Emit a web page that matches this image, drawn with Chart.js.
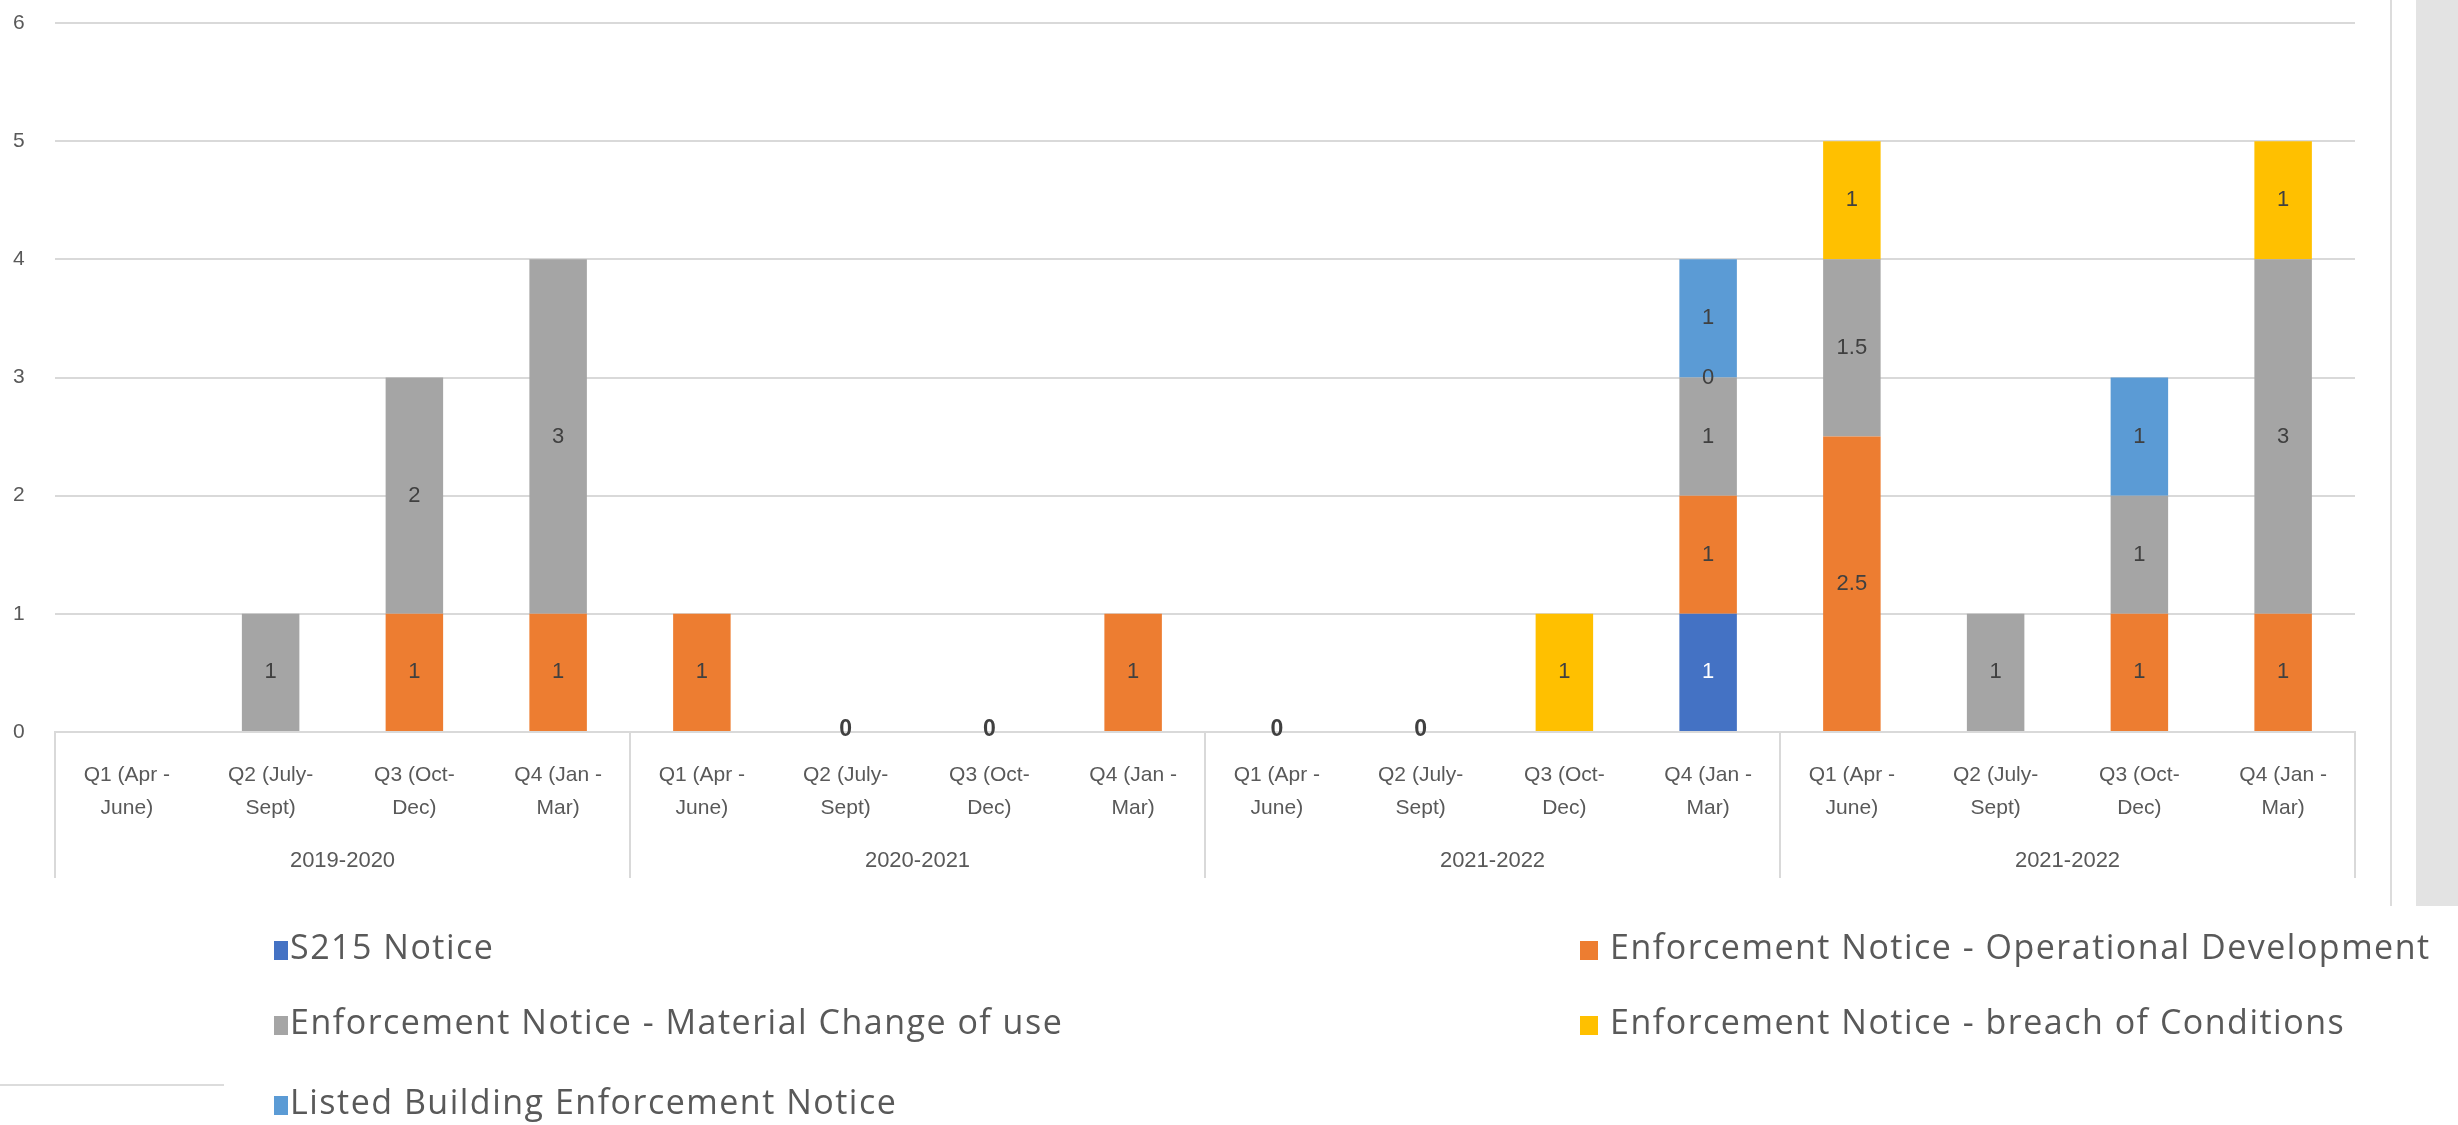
<!DOCTYPE html>
<html>
<head>
<title>Enforcement Notices</title>
<script src="https://cdn.jsdelivr.net/npm/chart.js"></script>
<style>
body { margin: 0; background: #fff; font-family: 'Liberation Sans', Arial, sans-serif; overflow: hidden; }
#wrap { position: absolute; left: 0; top: 0; width: 2458px; height: 1125px; }
.leg { position: absolute; font-family: 'Open Sans', sans-serif; font-size: 34px; letter-spacing: 1.5px; color: #595959; white-space: nowrap; line-height: 38px; }
.leg span { display: inline-block; width: 14px; height: 19px; margin-right: 2px; vertical-align: -1px; }
.leg.r span { width: 18px; margin-right: 12px; }
.vline { position: absolute; left: 2390px; top: 0; width: 2px; height: 906px; background: #dcdcdc; }
.side { position: absolute; left: 2416px; top: 0; width: 42px; height: 906px; background: #e3e3e3; }
.hline { position: absolute; left: 0; top: 1084px; width: 224px; height: 2px; background: #dcdcdc; }
</style>
</head>
<body>
<div id="wrap"><canvas id="c"></canvas></div>
<div class="vline"></div><div class="side"></div><div class="hline"></div>
<div id="legend"></div>
<script>
// quarters repeat for each financial year
const quarters = [['Q1 (Apr -', 'June)'], ['Q2 (July-', 'Sept)'], ['Q3 (Oct-', 'Dec)'], ['Q4 (Jan -', 'Mar)']];
const years = ['2019-2020', '2020-2021', '2021-2022', '2021-2022'];
const labels = years.flatMap(() => quarters);

const s215 =        [null, null, null, null,  null, null, null, null,  null, null, null, 1,     null, null, null, null];
const operational = [null, null, 1,    1,     1,    0,    0,    1,     0,    0,    null, 1,     2.5,  null, 1,    1];
const material =    [null, 1,    2,    3,     null, null, null, null,  null, null, null, 1,     1.5,  1,    1,    3];
const breach =      [null, null, null, null,  null, null, null, null,  null, null, 1,    0,     1,    null, null, 1];
const listed =      [null, null, null, null,  null, null, null, null,  null, null, null, 1,     null, null, 1,    null];

const series = [
  { name: 'S215 Notice', data: s215, color: '#4472C4', text: '#ffffff' },
  { name: 'Enforcement Notice - Operational Development', data: operational, color: '#ED7D31', text: '#404040' },
  { name: 'Enforcement Notice - Material Change of use', data: material, color: '#A5A5A5', text: '#404040' },
  { name: 'Enforcement Notice - breach of Conditions', data: breach, color: '#FFC000', text: '#404040' },
  { name: 'Listed Building Enforcement Notice', data: listed, color: '#5B9BD5', text: '#404040' }
];

// legend spots (left, top, column)
const legendPos = [[274, 927, ''], [1580, 927, 'r'], [274, 1002, ''], [1580, 1002, 'r'], [274, 1082, '']];
const leg = document.getElementById('legend');
series.forEach((s, i) => {
  const d = document.createElement('div');
  d.className = 'leg ' + legendPos[i][2];
  d.style.left = legendPos[i][0] + 'px';
  d.style.top = legendPos[i][1] + 'px';
  d.innerHTML = '<span style="background:' + s.color + '"></span>' + s.name;
  leg.appendChild(d);
});

const valueLabels = {
  id: 'valueLabels',
  afterDatasetsDraw(chart) {
    const ctx = chart.ctx;
    ctx.save();
    ctx.textAlign = 'center';
    ctx.textBaseline = 'middle';
    chart.data.datasets.forEach((ds, di) => {
      const meta = chart.getDatasetMeta(di);
      meta.data.forEach((bar, i) => {
        const v = ds.data[i];
        if (v === null) return;
        let total = 0;
        chart.data.datasets.forEach(d => { total += d.data[i] || 0; });
        const bold = v === 0 && total === 0;
        ctx.font = (bold ? 'bold 23px' : '22px') + ' "Liberation Sans", Arial, sans-serif';
        ctx.fillStyle = v === 0 ? '#404040' : series[di].text;
        ctx.fillText(String(v), bar.x, (bar.y + bar.base) / 2 - (bold ? 2 : 0));
      });
    });
    ctx.restore();
  }
};

const yearGroups = {
  id: 'yearGroups',
  afterDraw(chart) {
    const ctx = chart.ctx;
    const x = chart.scales.x;
    const bottom = chart.chartArea.bottom;
    const step = x.getPixelForValue(1) - x.getPixelForValue(0);
    ctx.save();
    ctx.strokeStyle = '#d9d9d9';
    ctx.lineWidth = 2;
    ctx.fillStyle = '#595959';
    ctx.font = '22px "Liberation Sans", Arial, sans-serif';
    ctx.textAlign = 'center';
    ctx.textBaseline = 'middle';
    years.forEach((yr, g) => {
      const left = x.getPixelForValue(g * 4) - step / 2;
      const right = x.getPixelForValue(g * 4 + 3) + step / 2;
      ctx.beginPath();
      ctx.moveTo(left, bottom);
      ctx.lineTo(left, 878);
      ctx.stroke();
      if (g === years.length - 1) {
        ctx.beginPath();
        ctx.moveTo(right, bottom);
        ctx.lineTo(right, 878);
        ctx.stroke();
      }
      ctx.fillText(yr, (left + right) / 2, 861);
    });
    ctx.restore();
  }
};

new Chart(document.getElementById('c'), {
  type: 'bar',
  data: {
    labels: labels,
    datasets: series.map(s => ({
      label: s.name,
      data: s.data,
      backgroundColor: s.color,
      borderWidth: 0,
      barPercentage: 0.4,
      categoryPercentage: 1
    }))
  },
  options: {
    responsive: true,
    maintainAspectRatio: false,
    animation: false,
    layout: { padding: { top: 23, right: 103, left: 13, bottom: 0 } },
    plugins: { legend: { display: false }, tooltip: { enabled: false } },
    scales: {
      x: {
        stacked: true,
        afterFit: s => { s.height = 393; },
        grid: { display: false, drawTicks: false },
        border: { color: '#d9d9d9', width: 2 },
        ticks: {
          autoSkip: false, maxRotation: 0, padding: 26, color: '#595959',
          font: { size: 21, family: '"Liberation Sans", Arial, sans-serif', lineHeight: 1.6 }
        }
      },
      y: {
        stacked: true,
        min: 0, max: 6,
        afterFit: s => { s.width = 42; },
        border: { display: false },
        grid: { color: '#d9d9d9', lineWidth: 2, drawTicks: false },
        ticks: {
          stepSize: 1, padding: 0, crossAlign: 'far', color: '#595959',
          font: { size: 21, family: '"Liberation Sans", Arial, sans-serif' }
        }
      }
    }
  },
  plugins: [valueLabels, yearGroups]
});
</script>
</body>
</html>
